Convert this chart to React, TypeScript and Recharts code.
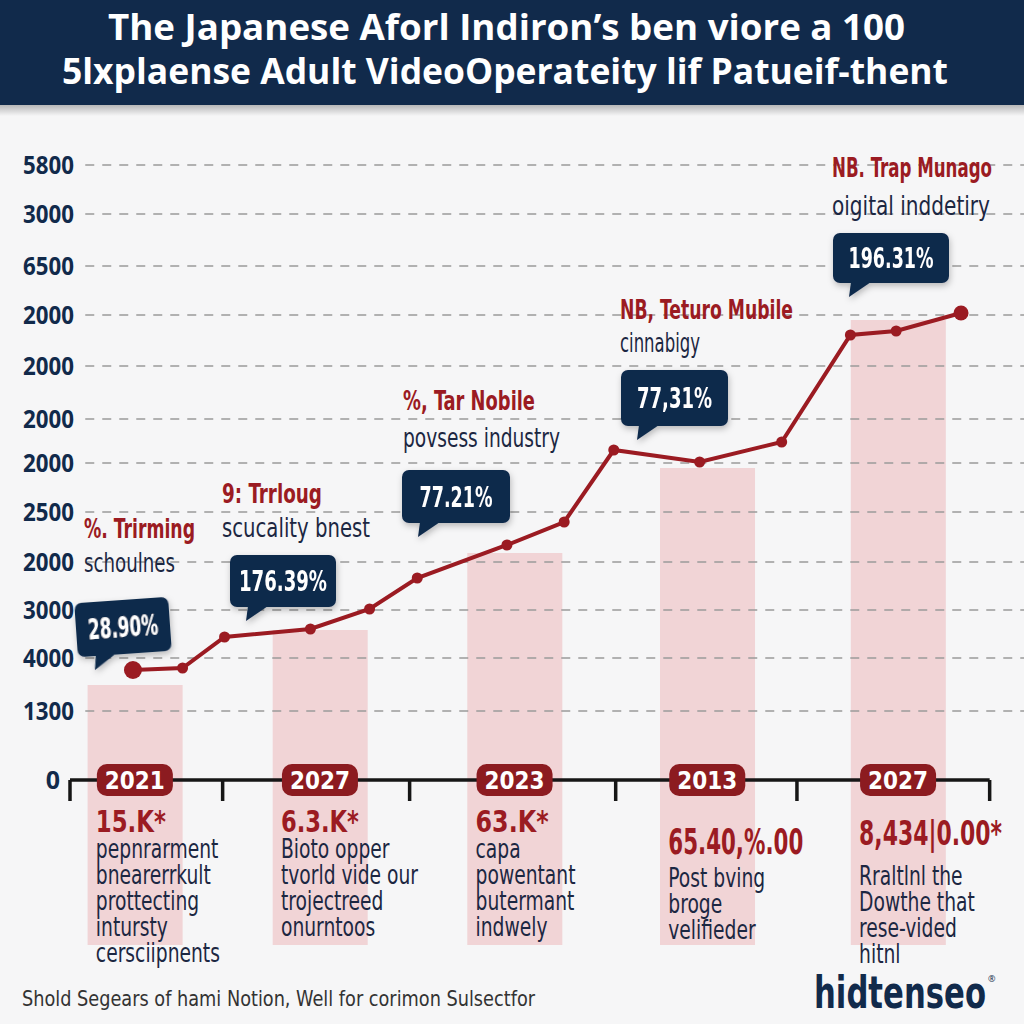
import { Bar, ComposedChart, Line, ReferenceDot, ReferenceLine, XAxis, YAxis } from "recharts"

// categories along the axis
const years = ["2021", "2027", "2023", "2013", "2027"]
const yearAt = [0, 0.97, 1.99, 3.0, 4.0]
const barTops = [1.9, 3.0, 4.54, 6.24, 9.2]
const barBase = -3.3

const headlines = ["15.K*", "6.3.K*", "63.K*", "65.40,%.00", "8,434|0.00*"]
const notes = [
  ["pepnrarment", "bnearerrkult", "prottecting", "intursty", "cersciipnents"],
  ["Bioto opper", "tvorld vide our", "trojectreed", "onurntoos"],
  ["capa", "powentant", "butermant", "indwely"],
  ["Post bving", "broge", "velifieder"],
  ["Rraltlnl the", "Dowthe that", "rese-vided", "hitnl"],
]

// trend line
const lineX = [-0.01, 0.25, 0.47, 0.92, 1.23, 1.48, 1.95, 2.25, 2.51, 2.96, 3.39, 3.75, 3.99, 4.33]
const lineY = [2.2, 2.24, 2.86, 3.02, 3.42, 4.04, 4.7, 5.16, 6.6, 6.36, 6.76, 8.9, 8.98, 9.34]

// y axis (labels as printed, bottom to top)
const yTickAt = [0, 1.38, 2.44, 3.4, 4.36, 5.36, 6.34, 7.22, 8.28, 9.3, 10.28, 11.32, 12.3]
const yTickLabels = ["0", "1300", "4000", "3000", "2000", "2500", "2000", "2000", "2000", "2000", "6500", "3000", "5800"]
const axisTickAt = [-0.34, 0.46, 1.44, 2.52, 3.47, 4.48]

const calloutValues = ["28.90%", "176.39%", "77.21%", "77,31%", "196.31%"]
const calloutTitles = ["%. Trirming", "9: Trrloug", "%, Tar Nobile", "NB, Teturo Mubile", "NB. Trap Munago"]
const calloutSubs = ["schoulnes", "scucality bnest", "povsess industry", "cinnabigy", "oigital inddetiry"]

const titleLines = [
  "The Japanese Aforl Indiron\u2019s ben viore a 100",
  "5lxplaense Adult VideoOperateity lif Patueif-thent",
]
const footnote = "Shold Segears of hami Notion, Well for corimon Sulsectfor"
const brand = "hidtenseo"

const navy = "#112a4b"
const red = "#9b1b22"
const ink = "#1c2742"
const narrow = "'DejaVu Sans Condensed', Roboto, sans-serif"
const heavy = "'Open Sans', Roboto, sans-serif"

const barRows = years.map((year, i) => ({ x: yearAt[i], year, range: [barBase, barTops[i]] }))
const lineRows = lineX.map((x, i) => ({ x, share: lineY[i] }))

// layout of the callouts (pixels)
const boxes = [
  { x: 76, y: 600, w: 94, h: 54, rot: -4, tw: 70 },
  { x: 230, y: 555, w: 106, h: 52, rot: 0, tw: 88 },
  { x: 402, y: 470, w: 108, h: 53, rot: 0, tw: 73 },
  { x: 621, y: 370, w: 107, h: 56, rot: 0, tw: 75 },
  { x: 833, y: 233, w: 116, h: 50, rot: 0, tw: 85 },
]
const heads = [
  { x: 84, y: 538, w: 111, sy: 572, sw: 91 },
  { x: 222, y: 503, w: 100, sy: 537, sw: 148 },
  { x: 403, y: 410, w: 132, sy: 447, sw: 157 },
  { x: 620, y: 319, w: 173, sy: 352, sw: 80 },
  { x: 832, y: 177, w: 160, sy: 215, sw: 158 },
]
const headDy = [52, 52, 52, 74, 65]
const headSize = [30, 30, 30, 35, 34]
const headW = [70, 78, 73, 135, 143]
const noteDy = [78, 78, 78, 107, 105]

function YTick(props: any) {
  const { y, payload } = props
  const i = yTickAt.indexOf(payload.value)
  const label = yTickLabels[i]
  return (
    <text
      x={i === 0 ? 60 : 74}
      y={y + 9}
      textAnchor="end"
      fontFamily={heavy}
      fontWeight={700}
      fontSize={25}
      fill={navy}
      textLength={label.length === 4 ? 51 : undefined}
      lengthAdjust="spacingAndGlyphs"
    >
      {label}
    </text>
  )
}

function YearBlock({ cx, cy, i }: { cx: number; cy: number; i: number }) {
  const left = cx - 39
  return (
    <g>
      <rect x={cx - 38} y={cy - 16} width={76} height={32} rx={10} fill="#8c1b20" />
      <text x={cx} y={cy + 9} textAnchor="middle" fontFamily={narrow} fontWeight={700} fontSize={25} fill="#fff" textLength={60} lengthAdjust="spacingAndGlyphs">
        {years[i]}
      </text>
      <text x={left} y={cy + headDy[i]} fontFamily={narrow} fontWeight={700} fontSize={headSize[i]} fill={red} textLength={headW[i]} lengthAdjust="spacingAndGlyphs">
        {headlines[i]}
      </text>
      <g transform={`translate(${left} ${cy}) scale(0.8 1)`}>
        {notes[i].map((line, k) => (
          <text key={k} x={0} y={noteDy[i] + k * 26} fontFamily={narrow} fontSize={26} fill={ink}>
            {line}
          </text>
        ))}
      </g>
    </g>
  )
}

function Callout({ i }: { i: number }) {
  const b = boxes[i]
  const h = heads[i]
  return (
    <g>
      <text x={h.x} y={h.y} fontFamily={narrow} fontWeight={700} fontSize={27} fill={red} textLength={h.w} lengthAdjust="spacingAndGlyphs">
        {calloutTitles[i]}
      </text>
      <text x={h.x} y={h.sy} fontFamily={narrow} fontSize={26} fill={ink} textLength={h.sw} lengthAdjust="spacingAndGlyphs">
        {calloutSubs[i]}
      </text>
      <g transform={`rotate(${b.rot} ${b.x + b.w / 2} ${b.y + b.h / 2})`} filter="url(#soft)">
        <rect x={b.x} y={b.y} width={b.w} height={b.h} rx={7} fill={navy} />
        <path d={`M${b.x + 18} ${b.y + b.h - 1} L${b.x + 38} ${b.y + b.h - 1} L${b.x + 16} ${b.y + b.h + 14} Z`} fill={navy} />
        <text
          x={b.x + b.w / 2 - b.tw / 2}
          y={b.y + b.h / 2 + 10}
          fontFamily={narrow}
          fontWeight={700}
          fontSize={28}
          fill="#fff"
          textLength={b.tw}
          lengthAdjust="spacingAndGlyphs"
        >
          {calloutValues[i]}
        </text>
      </g>
    </g>
  )
}

export default function App() {
  return (
    <div style={{ position: "absolute", left: 0, top: 0, width: 1024, height: 1024, background: "#f6f6f7", overflow: "hidden" }}>
      <ComposedChart
        width={1024}
        height={1024}
        data={barRows}
        margin={{ top: 130, right: 0, bottom: 74, left: 8 }}
        style={{ position: "absolute", left: 0, top: 0 }}
      >
        <XAxis type="number" dataKey="x" domain={[-0.34, 4.66]} hide allowDataOverflow />
        <YAxis
          type="number"
          domain={[-3.4, 13]}
          ticks={yTickAt}
          interval={0}
          width={62}
          axisLine={false}
          tickLine={false}
          tick={<YTick />}
          allowDataOverflow
        />
        {yTickAt.slice(1).map((t) => (
          <ReferenceLine
            key={t}
            segment={[{ x: -0.26, y: t }, { x: 4.66, y: t }]}
            stroke="#9a9a9a"
            strokeDasharray="9 8"
            strokeWidth={1.6}
          />
        ))}
        <Bar
          dataKey="range"
          isAnimationActive={false}
          shape={(p: any) => (
            <rect
              x={p.x + p.width / 2 - 47.5}
              y={p.y}
              width={95}
              height={p.height}
              fill="#efc6c9"
              fillOpacity={0.72}
            />
          )}
        />
        <Line
          data={lineRows}
          dataKey="share"
          type="linear"
          stroke={red}
          strokeWidth={4}
          isAnimationActive={false}
          dot={(p: any) => (
            <circle
              key={p.index}
              cx={p.cx}
              cy={p.cy}
              r={p.index === 0 ? 9 : p.index === lineRows.length - 1 ? 7.5 : 5.5}
              fill={red}
            />
          )}
        />
        <ReferenceLine segment={[{ x: -0.34, y: 0 }, { x: 4.48, y: 0 }]} stroke="#161616" strokeWidth={3.5} />
        {axisTickAt.map((t) => (
          <ReferenceLine key={t} segment={[{ x: t, y: 0 }, { x: t, y: -0.42 }]} stroke="#161616" strokeWidth={3.5} />
        ))}
        {years.map((_, i) => (
          <ReferenceDot
            key={i}
            x={yearAt[i]}
            y={0}
            r={0}
            shape={(p: any) => <YearBlock cx={p.cx} cy={p.cy} i={i} />}
          />
        ))}
      </ComposedChart>
      <svg width={1024} height={1024} style={{ position: "absolute", left: 0, top: 0, pointerEvents: "none" }}>
        <defs>
          <linearGradient id="hdrShade" x1="0" y1="0" x2="0" y2="1">
            <stop offset="0" stopColor="#000" stopOpacity={0.28} />
            <stop offset="1" stopColor="#000" stopOpacity={0} />
          </linearGradient>
          <filter id="soft" x="-20%" y="-20%" width="140%" height="160%">
            <feDropShadow dx="1" dy="3" stdDeviation="3" floodOpacity="0.25" />
          </filter>
        </defs>
        <rect x={0} y={104} width={1024} height={12} fill="url(#hdrShade)" />
        <rect x={0} y={0} width={1024} height={105} fill={navy} />
        <text x={108} y={40} fontFamily={heavy} fontWeight={700} fontSize={36} fill="#fff" textLength={797} lengthAdjust="spacingAndGlyphs">
          {titleLines[0]}
        </text>
        <text x={62} y={84} fontFamily={heavy} fontWeight={700} fontSize={36} fill="#fff" textLength={886} lengthAdjust="spacingAndGlyphs">
          {titleLines[1]}
        </text>
        {calloutValues.map((_, i) => (
          <Callout key={i} i={i} />
        ))}
        <text x={22} y={1006} fontFamily={narrow} fontSize={21} fill="#333" textLength={513} lengthAdjust="spacingAndGlyphs">
          {footnote}
        </text>
        <text x={814} y={1008} fontFamily={narrow} fontWeight={700} fontSize={44} fill={navy} textLength={172} lengthAdjust="spacingAndGlyphs">
          {brand}
        </text>
        <text x={988} y={982} fontFamily={heavy} fontSize={9} fill={navy}>
          ®
        </text>
      </svg>
    </div>
  )
}
